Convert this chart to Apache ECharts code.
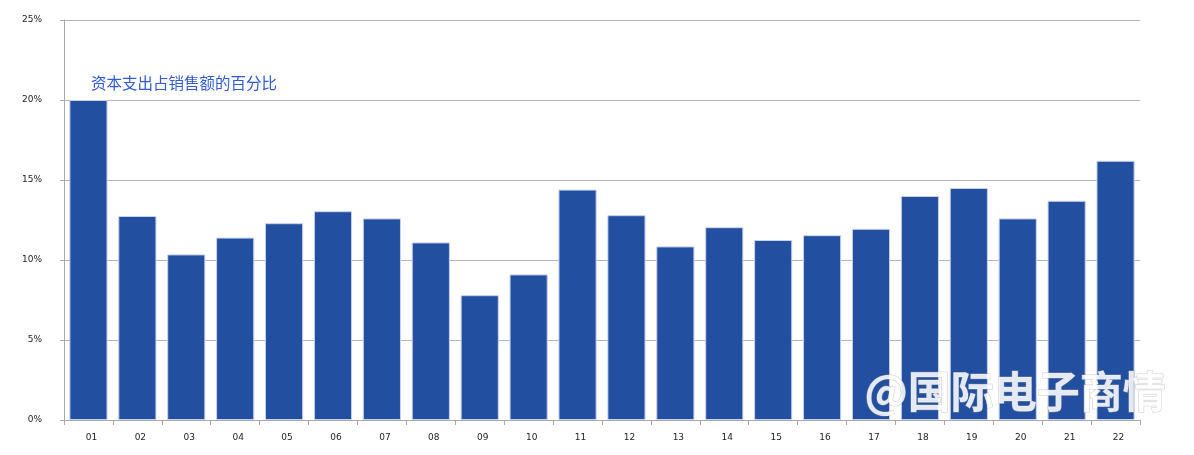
<!DOCTYPE html>
<html><head><meta charset="utf-8">
<script src="https://cdn.jsdelivr.net/npm/echarts@6/dist/echarts.min.js"></script>
<style>html,body{margin:0;padding:0;background:#fff}#c{width:1194px;height:455px}</style>
</head><body><div id="c"></div>
<script>
const categories = ['01','02','03','04','05','06','07','08','09','10','11','12','13','14','15','16','17','18','19','20','21','22'];
const capexRatio = [20.0,12.75,10.35,11.4,12.3,13.05,12.6,11.1,7.8,9.1,14.4,12.8,10.85,12.05,11.25,11.55,11.95,14.0,14.5,12.6,13.7,16.2];
const yTicks = [0,5,10,15,20,25];
const titleText = '资本支出占销售额的百分比';
const watermarkText = '@国际电子商情';

const chart = echarts.init(document.getElementById('c'));
chart.setOption({
  animation:false,
  grid:{left:64,right:54,top:20,bottom:35},
  xAxis:{type:'category',data:categories,boundaryGap:true,
    axisLine:{lineStyle:{color:'#a8a8a8',width:1}},
    axisTick:{show:true,length:5,lineStyle:{color:'#a8a8a8'}},
    axisLabel:{fontSize:9,color:'#222',margin:13,padding:[0,0,0,6],fontFamily:'DejaVu Sans'}},
  yAxis:{type:'value',min:yTicks[0],max:yTicks[yTicks.length-1],interval:5,
    axisLine:{show:true,lineStyle:{color:'#a8a8a8'}},
    axisTick:{show:true,length:4,lineStyle:{color:'#a8a8a8'}},
    splitLine:{lineStyle:{color:'#b4b4b4'}},
    axisLabel:{fontSize:9,color:'#222',margin:22,fontFamily:'DejaVu Sans',formatter:v=>v+'%'}},
  series:[{type:'bar',data:capexRatio,barWidth:'78%',
    itemStyle:{color:'#234FA0',borderColor:'#c8d2e8',borderWidth:1}}],
  graphic:[
    {type:'text',left:91,top:75,style:{text:titleText,fill:'#2f5bd3',fontSize:15.5,fontFamily:'Noto Sans CJK SC'}},
    {type:'text',left:864,top:370,z:100,style:{text:watermarkText,fill:'rgba(255,255,255,0.88)',fontSize:43,fontWeight:'bold',fontFamily:'Noto Sans CJK SC',
      stroke:'rgba(170,170,170,0.6)',lineWidth:1,shadowColor:'rgba(0,0,0,0.25)',shadowBlur:4}}
  ]
});
</script></body></html>
